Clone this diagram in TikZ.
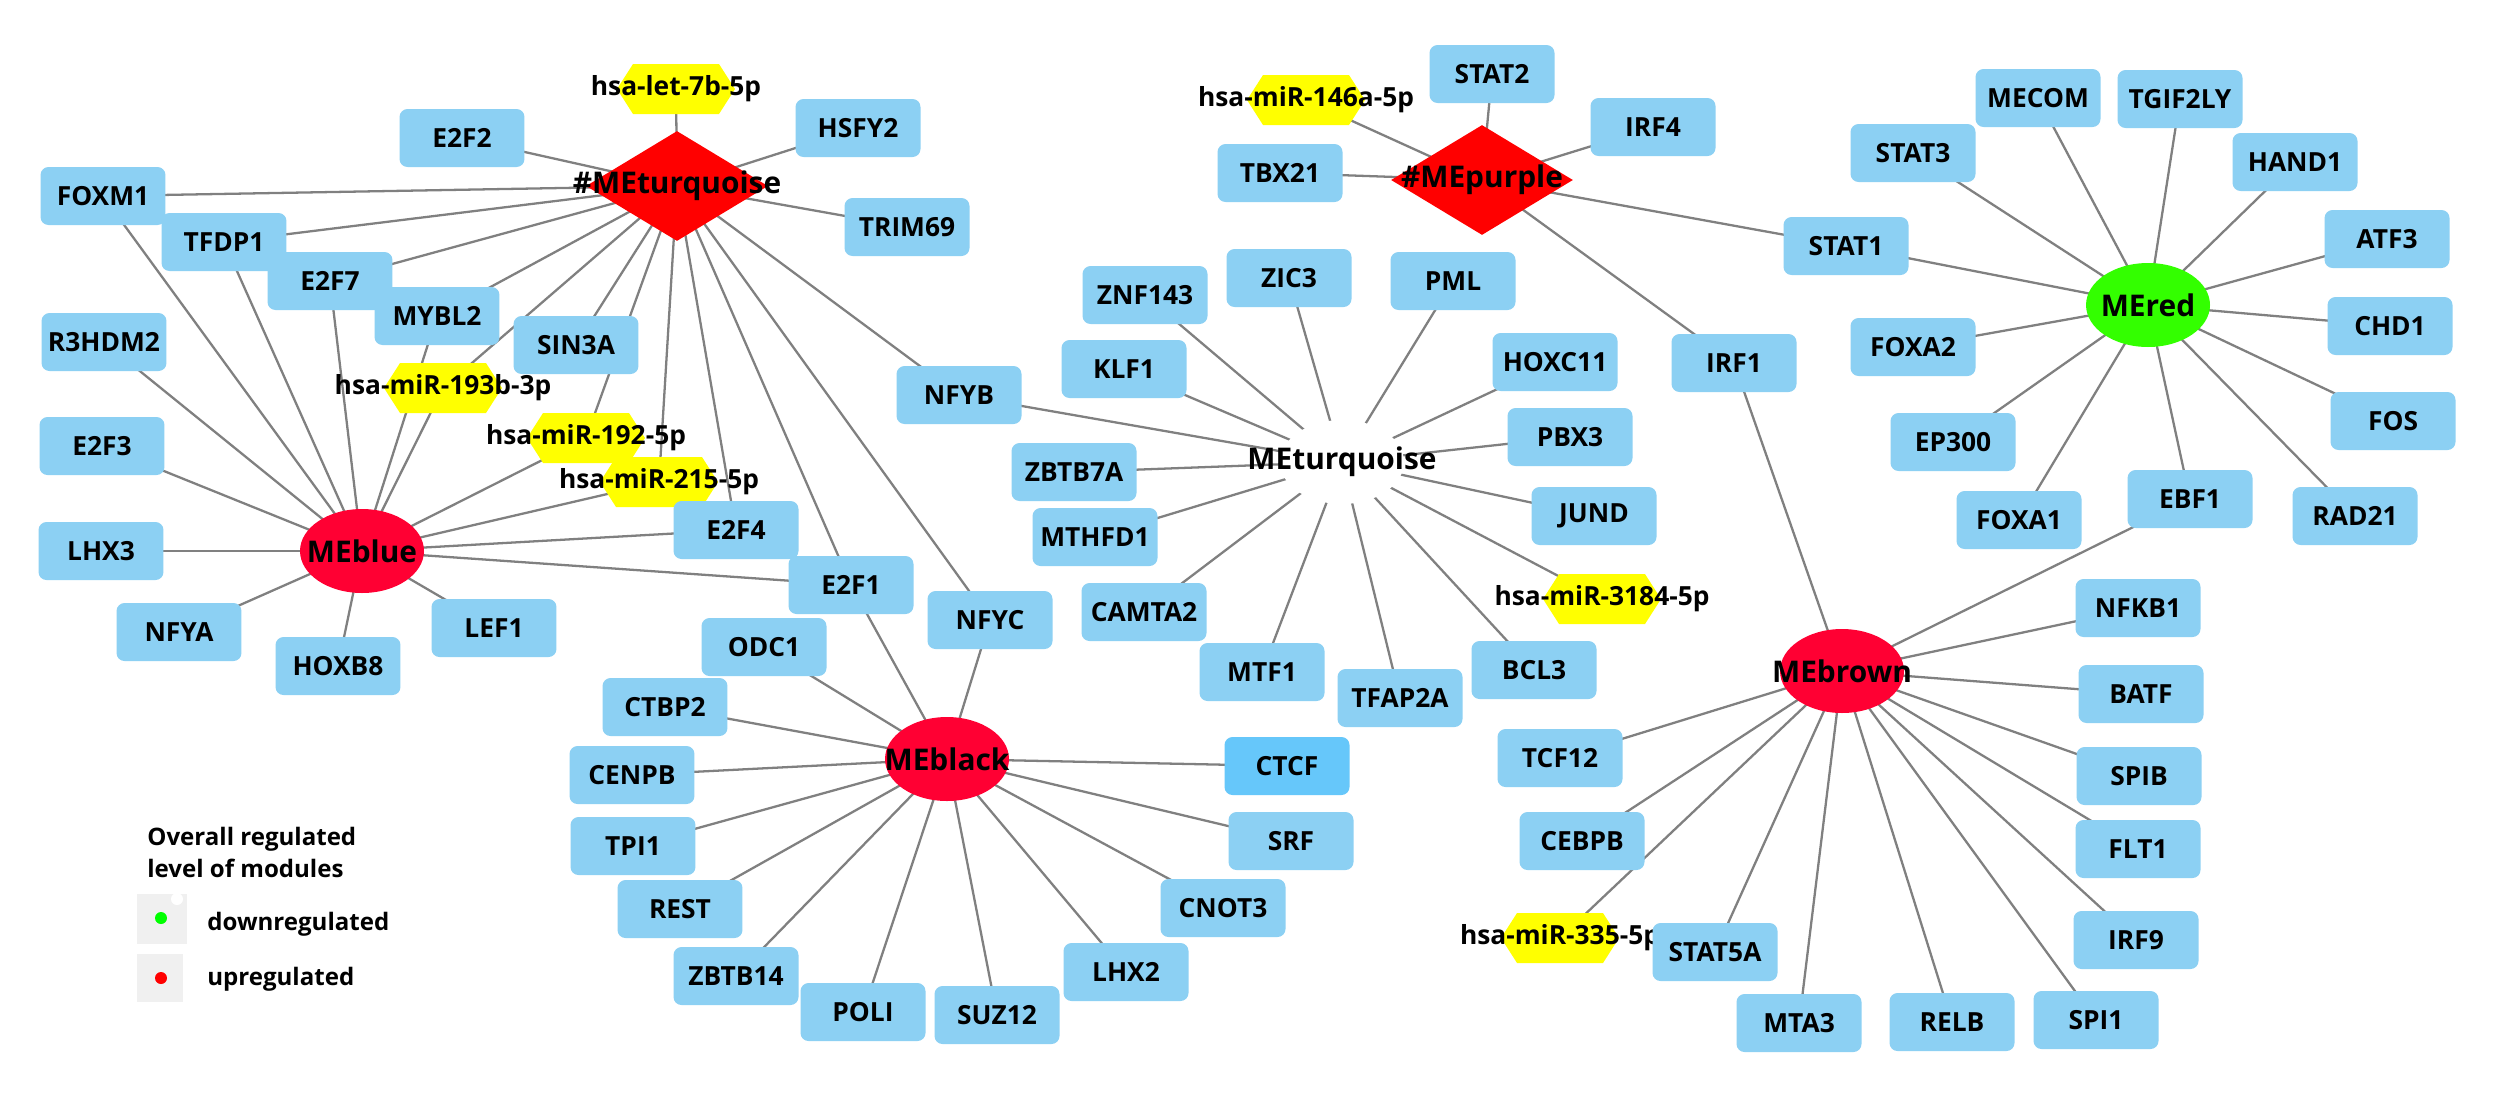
\documentclass[tikz,border=0pt]{standalone}
\usepackage{fontspec}
\setmainfont{Open Sans}
\usetikzlibrary{shapes.geometric}

\definecolor{geneblue}{RGB}{140,208,243}
\definecolor{ctcfblue}{RGB}{102,199,250}
\definecolor{modred}{RGB}{255,0,51}
\definecolor{hubred}{RGB}{255,0,0}
\definecolor{modgreen}{RGB}{51,255,0}
\definecolor{miryellow}{RGB}{255,255,0}
\definecolor{edgegray}{RGB}{128,128,128}
\definecolor{leggray}{RGB}{240,240,240}

\pgfdeclarelayer{bg}
\pgfdeclarelayer{edges}
\pgfsetlayers{bg,edges,main}

\tikzset{
  gene/.style={rectangle, rounded corners=0.16cm, fill=geneblue, minimum width=2.5cm,
    minimum height=1.16cm, inner sep=0pt, font=\bfseries\fontsize{15}{18}\selectfont},
  modlabel/.style={font=\bfseries\fontsize{17}{20}\selectfont, inner sep=0pt},
  module/.style={ellipse, fill=#1, minimum width=2.48cm, minimum height=1.68cm, inner sep=0pt},
  hub/.style={diamond, fill=hubred, minimum width=3.64cm, minimum height=2.2cm, inner sep=0pt},
  mirna/.style={rectangle, minimum width=2.36cm, minimum height=1cm, inner sep=0pt,
    path picture={\fill[miryellow] (path picture bounding box.west)
      -- ([xshift=0.32cm]path picture bounding box.north west)
      -- ([xshift=-0.32cm]path picture bounding box.north east)
      -- (path picture bounding box.east)
      -- ([xshift=-0.32cm]path picture bounding box.south east)
      -- ([xshift=0.32cm]path picture bounding box.south west) -- cycle;}},
  mirlabel/.style={font=\bfseries\fontsize{15}{18}\selectfont, inner sep=0pt},
  edge/.style={draw=edgegray, line width=1.3pt},
  legtext/.style={font=\bfseries\fontsize{13.7}{16}\selectfont, inner sep=0pt, anchor=base west},
}

\begin{document}
\begin{tikzpicture}[x=0.02cm, y=-0.02cm]
    % Canvas
    \useasboundingbox (0,0) rectangle (2500,1093);
    \begin{pgfonlayer}{bg}
      \fill[white] (0,0) rectangle (2500,1093);
    \end{pgfonlayer}

    % Module hubs
    \node[hub, label={[modlabel]center:\#MEturquoise}] (mtq) at (677,186) {};
    \node[hub, label={[modlabel]center:\#MEpurple}] (mpurple) at (1482,180) {};
    \node[module=modred, label={[modlabel]center:MEblue}] (meblue) at (362,551) {};
    \node[module=modred, label={[modlabel]center:MEblack}] (meblack) at (947,759) {};
    \node[module=white, label={[modlabel]center:MEturquoise}] (meturq) at (1342,462) {};
    \node[module=modgreen, label={[modlabel]center:MEred}] (mered) at (2148,305) {};
    \node[module=modred, label={[modlabel]center:MEbrown}] (mebrown) at (1842,671) {};

    % miRNAs
    \node[mirna, label={[mirlabel]center:hsa-let-7b-5p}] (let7b) at (676,89) {};
    \node[mirna, label={[mirlabel]center:hsa-miR-193b-3p}] (mir193b) at (443,388) {};
    \node[mirna, label={[mirlabel]center:hsa-miR-192-5p}] (mir192) at (586,438) {};
    \node[mirna, label={[mirlabel]center:hsa-miR-215-5p}] (mir215) at (659,482) {};
    \node[mirna, label={[mirlabel]center:hsa-miR-146a-5p}] (mir146a) at (1306,100) {};
    \node[mirna, label={[mirlabel]center:hsa-miR-3184-5p}] (mir3184) at (1602,599) {};
    \node[mirna, label={[mirlabel]center:hsa-miR-335-5p}] (mir335) at (1560,938) {};

    % Genes, left part
    \node[gene] (foxm1) at (103,196) {FOXM1};
    \node[gene] (e2f2) at (462,138) {E2F2};
    \node[gene] (hsfy2) at (858,128) {HSFY2};
    \node[gene] (trim69) at (907,227) {TRIM69};
    \node[gene] (tfdp1) at (224,242) {TFDP1};
    \node[gene] (e2f7) at (330,281) {E2F7};
    \node[gene] (mybl2) at (437,316) {MYBL2};
    \node[gene] (sin3a) at (576,345) {SIN3A};
    \node[gene] (r3hdm2) at (104,342) {R3HDM2};
    \node[gene] (e2f3) at (102,446) {E2F3};
    \node[gene] (lhx3) at (101,551) {LHX3};
    \node[gene] (nfya) at (179,632) {NFYA};
    \node[gene] (hoxb8) at (338,666) {HOXB8};
    \node[gene] (lef1) at (494,628) {LEF1};
    \node[gene] (e2f4) at (736,530) {E2F4};
    \node[gene] (e2f1) at (851,585) {E2F1};
    \node[gene] (nfyc) at (990,620) {NFYC};
    \node[gene] (nfyb) at (959,395) {NFYB};

    % Genes around MEblack
    \node[gene] (odc1) at (764,647) {ODC1};
    \node[gene] (ctbp2) at (665,707) {CTBP2};
    \node[gene] (cenpb) at (632,775) {CENPB};
    \node[gene] (tpi1) at (633,846) {TPI1};
    \node[gene] (rest) at (680,909) {REST};
    \node[gene] (zbtb14) at (736,976) {ZBTB14};
    \node[gene] (poli) at (863,1012) {POLI};
    \node[gene] (suz12) at (997,1015) {SUZ12};
    \node[gene] (lhx2) at (1126,972) {LHX2};
    \node[gene] (cnot3) at (1223,908) {CNOT3};
    \node[gene] (srf) at (1291,841) {SRF};
    \node[gene, fill=ctcfblue] (ctcf) at (1287,766) {CTCF};

    % Genes around MEturquoise
    \node[gene] (znf143) at (1145,295) {ZNF143};
    \node[gene] (zic3) at (1289,278) {ZIC3};
    \node[gene] (pml) at (1453,281) {PML};
    \node[gene] (hoxc11) at (1555,362) {HOXC11};
    \node[gene] (klf1) at (1124,369) {KLF1};
    \node[gene] (pbx3) at (1570,437) {PBX3};
    \node[gene] (zbtb7a) at (1074,472) {ZBTB7A};
    \node[gene] (jund) at (1594,516) {JUND};
    \node[gene] (mthfd1) at (1095,537) {MTHFD1};
    \node[gene] (camta2) at (1144,612) {CAMTA2};
    \node[gene] (mtf1) at (1262,672) {MTF1};
    \node[gene] (tfap2a) at (1400,698) {TFAP2A};
    \node[gene] (bcl3) at (1534,670) {BCL3};

    % Genes around #MEpurple and MEred
    \node[gene] (stat2) at (1492,74) {STAT2};
    \node[gene] (irf4) at (1653,127) {IRF4};
    \node[gene] (tbx21) at (1280,173) {TBX21};
    \node[gene] (stat1) at (1846,246) {STAT1};
    \node[gene] (irf1) at (1734,363) {IRF1};
    \node[gene] (stat3) at (1913,153) {STAT3};
    \node[gene] (mecom) at (2038,98) {MECOM};
    \node[gene] (tgif2ly) at (2180,99) {TGIF2LY};
    \node[gene] (hand1) at (2295,162) {HAND1};
    \node[gene] (atf3) at (2387,239) {ATF3};
    \node[gene] (chd1) at (2390,326) {CHD1};
    \node[gene] (fos) at (2393,421) {FOS};
    \node[gene] (rad21) at (2355,516) {RAD21};
    \node[gene] (ebf1) at (2190,499) {EBF1};
    \node[gene] (foxa1) at (2019,520) {FOXA1};
    \node[gene] (ep300) at (1953,442) {EP300};
    \node[gene] (foxa2) at (1913,347) {FOXA2};

    % Genes around MEbrown
    \node[gene] (tcf12) at (1560,758) {TCF12};
    \node[gene] (cebpb) at (1582,841) {CEBPB};
    \node[gene] (stat5a) at (1715,952) {STAT5A};
    \node[gene] (nfkb1) at (2138,608) {NFKB1};
    \node[gene] (batf) at (2141,694) {BATF};
    \node[gene] (spib) at (2139,776) {SPIB};
    \node[gene] (flt1) at (2138,849) {FLT1};
    \node[gene] (irf9) at (2136,940) {IRF9};
    \node[gene] (spi1) at (2096,1020) {SPI1};
    \node[gene] (relb) at (1952,1022) {RELB};
    \node[gene] (mta3) at (1799,1023) {MTA3};

    % Edges, under the nodes
    \begin{pgfonlayer}{edges}
      \foreach \g in {let7b,e2f2,hsfy2,trim69,foxm1,tfdp1,e2f7,mybl2,mir193b,sin3a,mir192,mir215,e2f4,e2f1,nfyc,nfyb}
        \draw[edge] (mtq.center) -- (\g.center);
      \foreach \g in {foxm1,tfdp1,e2f7,mybl2,mir193b,r3hdm2,e2f3,lhx3,nfya,hoxb8,lef1,mir192,mir215,e2f4,e2f1}
        \draw[edge] (meblue.center) -- (\g.center);
      \foreach \g in {e2f1,nfyc,odc1,ctbp2,cenpb,tpi1,rest,zbtb14,poli,suz12,lhx2,cnot3,srf,ctcf}
        \draw[edge] (meblack.center) -- (\g.center);
      \foreach \g in {nfyb,znf143,klf1,zic3,pml,hoxc11,pbx3,zbtb7a,jund,mthfd1,camta2,mtf1,tfap2a,bcl3,mir3184}
        \draw[edge] (meturq.center) -- (\g.center);
      \foreach \g in {mir146a,stat2,irf4,tbx21,stat1,irf1}
        \draw[edge] (mpurple.center) -- (\g.center);
      \foreach \g in {stat1,stat3,mecom,tgif2ly,hand1,atf3,chd1,fos,rad21,ebf1,foxa1,ep300,foxa2}
        \draw[edge] (mered.center) -- (\g.center);
      \foreach \g in {irf1,ebf1,nfkb1,batf,spib,flt1,irf9,spi1,relb,mta3,stat5a,mir335,cebpb,tcf12}
        \draw[edge] (mebrown.center) -- (\g.center);
    \end{pgfonlayer}

    % Legend
    \node[legtext] (legtitle) at (147,845) {Overall regulated};
    \node[legtext] (legtitleb) at (147,877) {level of modules};
    \fill[leggray] (137,894) rectangle (187,944);
    \fill[white] (177,899) circle (0.12cm);
    \fill[leggray] (137,954) rectangle (183,1002);
    \fill[green] (161,918) circle (0.12cm);
    \fill[red] (161,978) circle (0.12cm);
    \node[legtext] (legdown) at (207,930) {downregulated};
    \node[legtext] (legup) at (207,985) {upregulated};

\end{tikzpicture}
\end{document}
